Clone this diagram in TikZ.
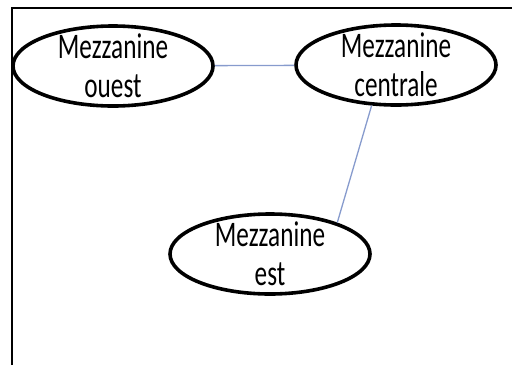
\documentclass[tikz,border=0pt]{standalone}
\usepackage{fontspec}
\newfontfamily\condfont[FakeStretch=0.7]{Carlito}
\usetikzlibrary{shapes.geometric}
\definecolor{linkblue}{RGB}{135,155,205}
\tikzset{
  zone/.style={draw=black, line width=3.6pt, ellipse, minimum width=200pt, minimum height=80pt, inner sep=0pt},
  zonetext/.style={align=center, inner sep=0pt, font=\condfont\fontsize{36}{39}\selectfont},
  link/.style={draw=linkblue, line width=1.3pt},
  frame/.style={draw=black, line width=1.5pt}
}
\begin{document}
\begin{tikzpicture}[x=1pt,y=-1pt]
\useasboundingbox (0,0) rectangle (512,365);
\coordinate (fbl) at (12,365);
\coordinate (ftl) at (12,8);
\coordinate (ftr) at (512,8);
\draw[frame] (fbl) -- (ftl) -- (ftr);
\node[zone] (ouest) at (113,66) {};
\node[zone] (centrale) at (396,65) {};
\node[zone] (est) at (270,254) {};
\node[zonetext] (touest) at (ouest.center) {Mezzanine\\ouest};
\node[zonetext] (tcentrale) at (centrale.center) {Mezzanine\\centrale};
\node[zonetext] (test) at (est.center) {Mezzanine\\est};
\draw[link] (ouest) -- (centrale);
\draw[link] (centrale.239) -- (est.25);
\end{tikzpicture}
\end{document}
